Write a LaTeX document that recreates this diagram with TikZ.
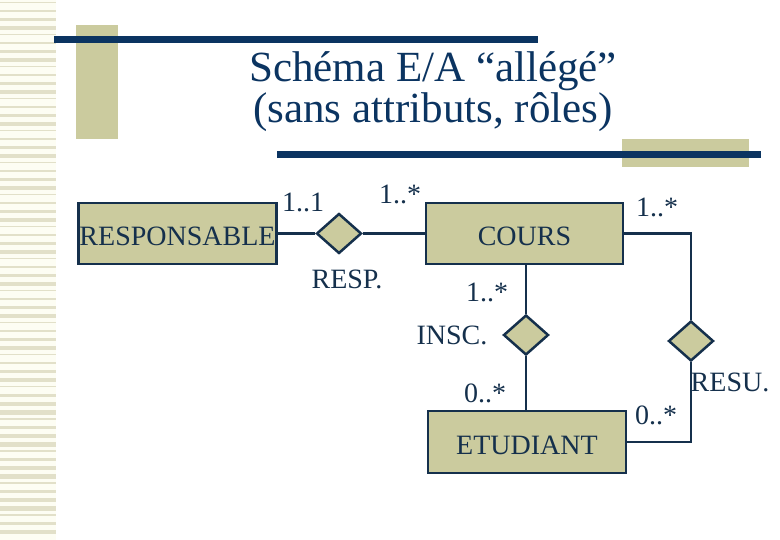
\documentclass[tikz,border=0pt]{standalone}
\usepackage{fontspec}
\setmainfont{Liberation Serif}
\usepackage{xcolor}
\usetikzlibrary{shapes.geometric,positioning}
\definecolor{navy}{HTML}{0B3461}
\definecolor{inkblue}{HTML}{15304C}
\definecolor{khaki}{HTML}{CBCB9E}
\definecolor{stripebg}{HTML}{FDFDF3}
\definecolor{stripefg}{HTML}{E2E0C9}

\begin{document}
\begin{tikzpicture}[
  x=1pt, y=-1pt,
  entity/.style={draw=inkblue, line width=2.5pt, fill=khaki, minimum width=198pt, minimum height=61pt, inner sep=0pt, text height=24pt, text depth=0pt, text=inkblue, font=\fontsize{28}{30}\selectfont},
  relation/.style={draw=inkblue, diamond, line width=2.5pt, fill=khaki, minimum width=45pt, minimum height=40pt, inner sep=0pt},
  card/.style={text=inkblue, inner sep=0pt, font=\fontsize{28}{30}\selectfont},
  link/.style={draw=inkblue, line width=2.2pt},
  titre/.style={text=navy, inner sep=0pt, anchor=base, font=\fontsize{43}{45}\selectfont}
]
\useasboundingbox (0,0) rectangle (780,540);

% decor: stripes, blocks and bars
\fill[stripebg] (0,0) rectangle (56,540);
\foreach \i in {0,...,66}{
  \pgfmathsetmacro{\h}{1.5+mod(\i*5,4)}
  \fill[stripefg] (0,\i*8+2) rectangle (56,\i*8+2+\h);
}
\fill[khaki] (76,25) rectangle (118,139);
\fill[khaki] (622,139) rectangle (749,167);
\fill[navy] (54,36) rectangle (538,43);
\fill[navy] (277,151) rectangle (761,158);

\node[titre] (ligne1) at (433,82) {Schéma E/A “allégé”};
\node[titre] (ligne2) at (433,123) {(sans attributs, rôles)};

% entities and relations
\node[entity] (responsable) at (177.5,233.5) {RESPONSABLE};
\node[entity, minimum width=197pt] (cours) at (524.5,233.5) {COURS};
\node[entity, minimum height=62pt] (etudiant) at (527,442) {ETUDIANT};
\node[relation] (resp) at (339,233.5) {};
\node[relation] (insc) at (526,335) {};
\node[relation] (resu) at (691,341) {};

\draw[link] (responsable.east) -- (resp.west);
\draw[link] (resp.east) -- (cours.west);
\draw[link] (insc.north |- cours.south) -- (insc.north);
\draw[link] (insc.south) -- (insc.south |- etudiant.north);
\draw[link] (cours.east) -| (resu.north);
\draw[link] (resu.south) |- (etudiant.east);

% cardinalities and role names
\node[card] (c-resp-l) at (303,202) {1..1};
\node[card] (c-resp-r) at (400,194) {1..*};
\node[card] (n-resp) at (347,279) {RESP.};
\node[card] (c-resu-t) at (657,207) {1..*};
\node[card] (c-insc-t) at (487,292) {1..*};
\node[card] (n-insc) at (452,335) {INSC.};
\node[card] (c-insc-b) at (485,393) {0..*};
\node[card] (n-resu) at (730,382) {RESU.};
\node[card] (c-resu-b) at (656,415) {0..*};
\end{tikzpicture}
\end{document}
